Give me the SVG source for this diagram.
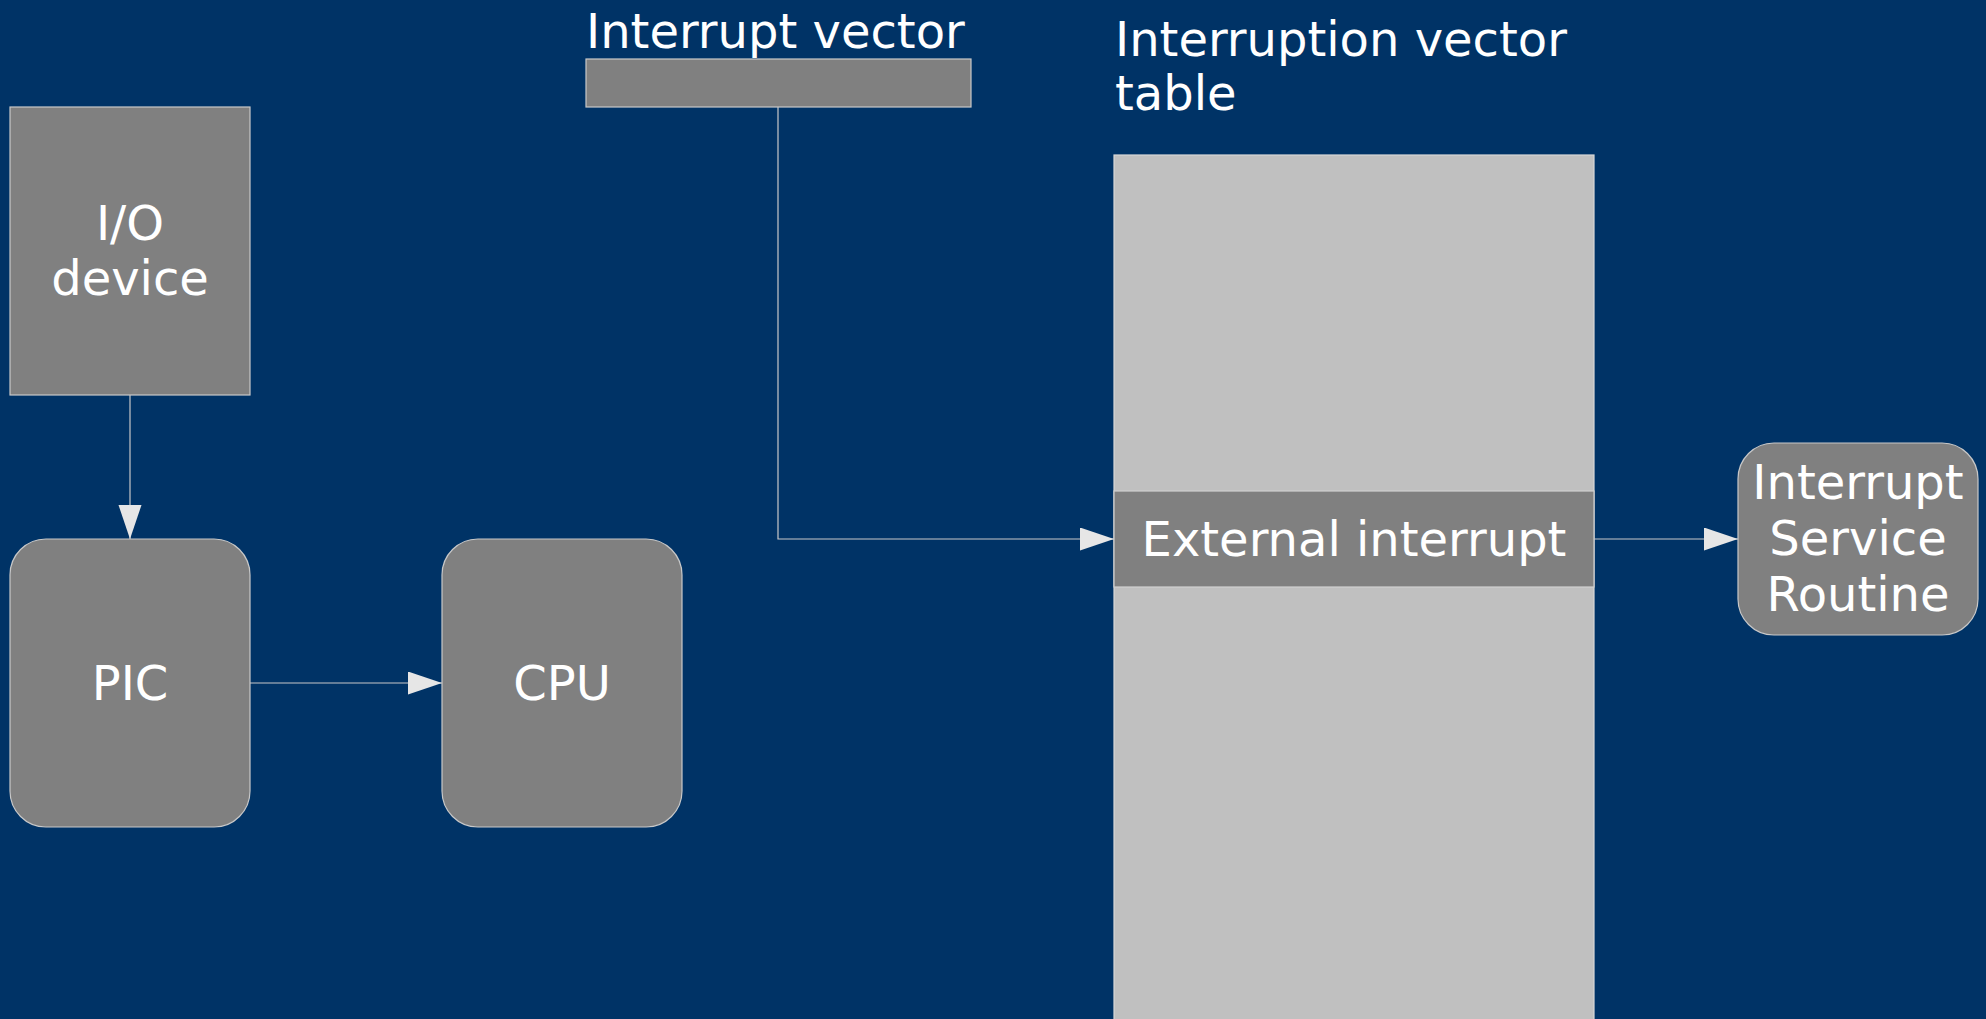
<svg xmlns="http://www.w3.org/2000/svg" width="1986" height="1019" viewBox="0 0 1986 1019">
  <defs>
    <style>
      .box { fill: #808080; stroke: #c8c8c8; stroke-width: 1.2; }
      .table { fill: #c0c0c0; stroke: #d8d8d8; stroke-width: 1.2; }
      .label { font-family: "DejaVu Sans", Verdana, sans-serif; font-size: 48px; fill: #ffffff; }
      .mid { text-anchor: middle; }
      .wire { fill: none; stroke: #c8c8c8; stroke-width: 1.2; marker-end: url(#arrow); }
    </style>
    <marker id="arrow" markerUnits="userSpaceOnUse" markerWidth="34" markerHeight="24" refX="34" refY="11.5" orient="auto">
      <path d="M0,0 L34,11.5 L0,23 Z" fill="#e6e6e6"/>
    </marker>
  </defs>

  <!-- background -->
  <rect x="0" y="0" width="1986" height="1019" fill="#003366"/>

  <!-- I/O device -->
  <g id="io-device">
    <rect class="box" x="10" y="107" width="240" height="288"/>
    <text class="label mid" x="130" y="240">I/O</text>
    <text class="label mid" x="130" y="295">device</text>
  </g>

  <!-- PIC -->
  <g id="pic">
    <rect class="box" x="10" y="539" width="240" height="288" rx="36" ry="36"/>
    <text class="label mid" x="130" y="700">PIC</text>
  </g>

  <!-- CPU -->
  <g id="cpu">
    <rect class="box" x="442" y="539" width="240" height="288" rx="36" ry="36"/>
    <text class="label mid" x="562" y="700">CPU</text>
  </g>

  <!-- Interrupt vector register -->
  <g id="interrupt-vector">
    <text class="label" x="586" y="48">Interrupt vector</text>
    <rect class="box" x="586" y="59" width="385" height="48"/>
  </g>

  <!-- Interruption vector table -->
  <g id="vector-table">
    <text class="label" x="1115" y="56">Interruption vector</text>
    <text class="label" x="1115" y="110">table</text>
    <rect class="table" x="1114" y="155" width="480" height="900"/>
  </g>

  <!-- table entry for the external interrupt -->
  <g id="external-interrupt">
    <rect class="box" x="1114" y="491" width="480" height="96" style="stroke:#d0d0d0"/>
    <text class="label mid" x="1354" y="556">External interrupt</text>
  </g>

  <!-- Interrupt Service Routine -->
  <g id="isr">
    <rect class="box" x="1738" y="443" width="240" height="192" rx="36" ry="36"/>
    <text class="label mid" x="1858" y="499">Interrupt</text>
    <text class="label mid" x="1858" y="555">Service</text>
    <text class="label mid" x="1858" y="611">Routine</text>
  </g>

  <!-- connectors -->
  <g id="connectors">
    <path class="wire" d="M130,395 V539"/>
    <path class="wire" d="M250,683 H442"/>
    <path class="wire" d="M778,107 V539 H1114"/>
    <path class="wire" d="M1594,539 H1738"/>
  </g>
</svg>
